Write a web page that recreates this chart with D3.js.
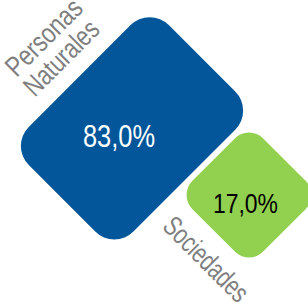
<!DOCTYPE html>
<html>
<head>
<meta charset="utf-8">
<script src="https://cdn.jsdelivr.net/npm/d3@7"></script>
<style>
  body { margin: 0; background: #fff; }
  svg { display: block; }
</style>
</head>
<body>
<div id="chart"></div>
<script>
// data
var categories = ["Personas Naturales", "Sociedades"];
var values = [83.0, 17.0];
var labelLines = [["Personas", "Naturales"], ["Sociedades"]];

var w = 308, h = 305;
var font = "'Liberation Sans Narrow', 'Arial Narrow', 'Liberation Sans', Arial, sans-serif";
var fmt = function(v) { return d3.format(".1f")(v).replace(".", ",") + "%"; };

var svg = d3.select("#chart").append("svg")
  .attr("width", w)
  .attr("height", h);

// side lengths of the rotated boxes (along the two 45deg axes)
var uScale = d3.scaleLinear().domain([17, 83]).range([100, 148]);
var vScale = d3.scaleLinear().domain([17, 83]).range([100, 198]);

// box layout
var boxes = [
  { cx: 132, cy: 128.3, r: 27, fill: "#03569A", txt: "#ffffff", fs: 31, tx: 119, ty: 147, len: 72 },
  { cx: 249, cy: 195, r: 20, fill: "#92D050", txt: "#000000", fs: 28, tx: 245.5, ty: 213, len: 65 }
];

var g = svg.selectAll("g.box")
  .data(values)
  .enter().append("g")
  .attr("class", "box");

g.append("rect")
  .attr("transform", function(d, i) { return "translate(" + boxes[i].cx + "," + boxes[i].cy + ") rotate(45)"; })
  .attr("x", function(d) { return -uScale(d) / 2; })
  .attr("y", function(d) { return -vScale(d) / 2; })
  .attr("width", function(d) { return uScale(d); })
  .attr("height", function(d) { return vScale(d); })
  .attr("rx", function(d, i) { return boxes[i].r; })
  .attr("fill", function(d, i) { return boxes[i].fill; });

g.append("text")
  .attr("x", function(d, i) { return boxes[i].tx; })
  .attr("y", function(d, i) { return boxes[i].ty; })
  .attr("text-anchor", "middle")
  .attr("font-family", font)
  .attr("font-size", function(d, i) { return boxes[i].fs; })
  .attr("textLength", function(d, i) { return boxes[i].len; })
  .attr("lengthAdjust", "spacingAndGlyphs")
  .attr("fill", function(d, i) { return boxes[i].txt; })
  .text(function(d) { return fmt(d); });

// category labels (rotated)
var labelPos = [
  { angle: -45, lines: [[50.5, 44], [68, 64.5]], len: [96, 94] },
  { angle: 45, lines: [[199.5, 266]], len: [108] }
];

labelLines.forEach(function(lines, i) {
  lines.forEach(function(t, j) {
    var p = labelPos[i].lines[j];
    svg.append("text")
      .attr("transform", "translate(" + p[0] + "," + p[1] + ") rotate(" + labelPos[i].angle + ")")
      .attr("text-anchor", "middle")
      .attr("font-family", font)
      .attr("font-size", 28)
      .attr("textLength", labelPos[i].len[j])
      .attr("lengthAdjust", "spacingAndGlyphs")
      .attr("fill", "#7f7f7f")
      .text(t);
  });
});
</script>
</body>
</html>
